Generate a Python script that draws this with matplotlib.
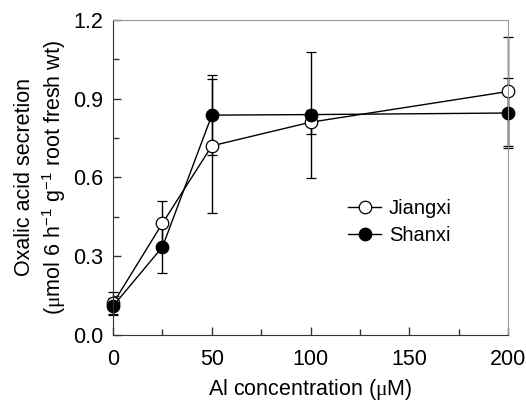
import numpy as np
import matplotlib.pyplot as plt

plt.rcParams['font.family'] = ['Liberation Sans', 'DejaVu Sans']
plt.rcParams['mathtext.fontset'] = 'custom'
plt.rcParams['mathtext.rm'] = 'Liberation Serif'
plt.rcParams['mathtext.sf'] = 'Liberation Sans'

# Al concentration (uM)
al_conc = [0, 25, 50, 100, 200]

# oxalic acid secretion
jiangxi = [0.12, 0.425, 0.72, 0.81, 0.927]
jiangxi_err = [0.045, 0.085, 0.255, 0.045, 0.208]
shanxi = [0.11, 0.335, 0.837, 0.839, 0.845]
shanxi_err = [0.03, 0.10, 0.153, 0.24, 0.133]

fig = plt.figure(figsize=(5.26, 4.04), dpi=100)
ax = fig.add_axes([0.215, 0.171, 0.751, 0.780])

for vals, errs, face, name in [(jiangxi, jiangxi_err, 'white', 'Jiangxi'),
                               (shanxi, shanxi_err, 'black', 'Shanxi')]:
    cont = ax.errorbar(al_conc, vals, yerr=errs, color='black', lw=1.0,
                       marker='o', ms=9, mfc=face, mec='black', mew=0.9,
                       capsize=3.5, elinewidth=1.0, capthick=1.0, label=name)
    cont[0].set_clip_on(False)
    for art in cont[1] + cont[2]:
        art.set_clip_on(False)

ax.set_xlim(0, 200)
ax.set_ylim(0, 1.2)
ax.set_xticks([0, 50, 100, 150, 200])
ax.set_xticks([25, 75, 125, 175], minor=True)
ax.set_yticks([0.0, 0.3, 0.6, 0.9, 1.2])
ax.set_yticks([0.15, 0.45, 0.75, 1.05], minor=True)
ax.set_yticklabels(['0.0', '0.3', '0.6', '0.9', '1.2'])
ax.tick_params(which='both', direction='in', labelsize=15.5,
               top=False, right=False, color='#333333')
ax.tick_params(axis='x', pad=10)
ax.tick_params(axis='y', pad=7)
ax.tick_params(which='major', length=6, width=1)
ax.tick_params(which='minor', length=4, width=1)

for side in ['left', 'bottom']:
    ax.spines[side].set_color('#333333')
for side in ['top', 'right']:
    ax.spines[side].set_color('#999999')

ax.set_xlabel(r'Al concentration ($\mathrm{\mu}$M)', fontsize=15.5, labelpad=5)
ax.set_ylabel('Oxalic acid secretion\n'
              r'($\mathrm{\mu}$mol 6 h$^{\mathsf{-1}}$ g$^{\mathsf{-1}}$ root fresh wt)',
              fontsize=15.5, labelpad=4, linespacing=1.2)

handles, labels = ax.get_legend_handles_labels()
handles = [h[0] for h in handles]
ax.legend(handles, labels, loc='upper left', bbox_to_anchor=(0.55, 0.49),
          frameon=False, fontsize=14.5, handlelength=1.6, handletextpad=0.4,
          labelspacing=0.4)

fig.savefig('out.png', dpi=100)
